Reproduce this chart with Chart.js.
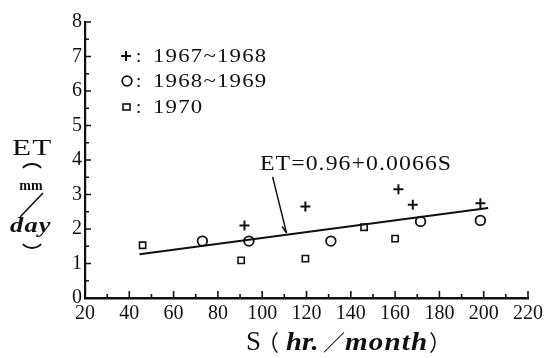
<!DOCTYPE html>
<html lang="en">
<head>
<meta charset="UTF-8">
<title>ET vs S</title>
<script src="https://cdn.jsdelivr.net/npm/chart.js@4.4.0/dist/chart.umd.min.js"></script>
<style>
  html, body { margin: 0; background: #fff; }
  #wrap { width: 548px; height: 358px; }
</style>
</head>
<body>
<div id="wrap"><canvas id="etChart" width="548" height="358"></canvas></div>
<script>
// S (hr./month) against ET (mm/day), three observation periods
const sPlus = [92, 119.5, 161.5, 168, 198.5];
const etPlus = [2.1, 2.65, 3.15, 2.7, 2.75];
const sCircle = [73, 94, 131, 171.5, 198.5];
const etCircle = [1.65, 1.65, 1.65, 2.22, 2.25];
const sSquare = [46, 90.5, 119.5, 146, 160];
const etSquare = [1.53, 1.09, 1.14, 2.05, 1.72];
// ends of the fitted line
const sFit = [44.6, 202];
const etFit = [1.27, 2.61];
const seriesNames = ["1967~1968", "1968~1969", "1970"];
const fitLabel = "ET=0.96+0.0066S";
const xTicks = [20, 40, 60, 80, 100, 120, 140, 160, 180, 200, 220];
const yTicks = [0, 1, 2, 3, 4, 5, 6, 7, 8];

const INK = "#111";
const SERIF = "'Liberation Serif', 'Times New Roman', serif";
const CJK = "'Noto Sans CJK JP', 'Noto Sans CJK SC', sans-serif";

const toPoints = (xs, ys) => xs.map((x, i) => ({ x: x, y: ys[i] }));

// text with optional letter spacing and horizontal stretch
function text(ctx, str, x, y, font, spacing, stretch) {
  ctx.save();
  ctx.font = font;
  ctx.letterSpacing = (spacing || 0) + "px";
  ctx.translate(x, y);
  ctx.scale(stretch || 1, 1);
  ctx.fillText(str, 0, 0);
  ctx.restore();
}

// flat bracket arc above (up=true) or below a block of text
function bracket(ctx, cx, cy, up) {
  const r = 13;
  ctx.beginPath();
  if (up) {
    ctx.arc(cx, cy + r, r, Math.PI * 1.25, Math.PI * 1.75);
  } else {
    ctx.arc(cx, cy - r, r, Math.PI * 0.25, Math.PI * 0.75);
  }
  ctx.stroke();
}

// inward ticks, legend, fit label and the axis titles
const decor = {
  id: "decor",
  afterDraw(chart) {
    const ctx = chart.ctx;
    const xs = chart.scales.x, ys = chart.scales.y;
    const ax = xs.getPixelForValue(20), ay = ys.getPixelForValue(0);
    ctx.save();
    ctx.strokeStyle = INK;
    ctx.fillStyle = INK;
    ctx.lineCap = "butt";

    // y ticks every 0.5, x ticks every 10
    ctx.lineWidth = 1.6;
    ctx.beginPath();
    for (let v = 0; v <= 8; v += 0.5) {
      const py = ys.getPixelForValue(v);
      const len = v % 1 === 0 ? 6 : 4;
      ctx.moveTo(ax - 1, py);
      ctx.lineTo(ax + len, py);
    }
    for (let v = 30; v <= 220; v += 10) {
      const px = xs.getPixelForValue(v);
      const len = v % 20 === 0 ? 7 : 4;
      ctx.moveTo(px, ay + 1);
      ctx.lineTo(px, ay - len);
    }
    ctx.stroke();

    // legend
    const lx = 126;
    const rows = [56, 81, 107];
    ctx.lineWidth = 2;
    ctx.beginPath();
    ctx.moveTo(lx - 5, rows[0]); ctx.lineTo(lx + 5, rows[0]);
    ctx.moveTo(lx, rows[0] - 5); ctx.lineTo(lx, rows[0] + 5);
    ctx.stroke();
    ctx.lineWidth = 1.8;
    ctx.beginPath();
    ctx.arc(lx + 1, rows[1], 4.8, 0, Math.PI * 2);
    ctx.stroke();
    ctx.lineWidth = 1.6;
    ctx.strokeRect(lx - 3, rows[2] - 3, 7, 6);
    ctx.textAlign = "left";
    ctx.textBaseline = "alphabetic";
    seriesNames.forEach((name, i) => {
      text(ctx, ":", 136, rows[i] + 6, "19px " + SERIF, 0, 1);
      text(ctx, name, 153, rows[i] + 6, "19px " + SERIF, 1, 1.2);
    });

    // fit equation with leader
    const ex = xs.getPixelForValue(99), ey = ys.getPixelForValue(3.95);
    text(ctx, fitLabel, ex, ey + 8, "22px " + SERIF, 1, 1.08);
    const p0 = { x: xs.getPixelForValue(104.7), y: ys.getPixelForValue(3.51) };
    const p1 = { x: xs.getPixelForValue(111), y: ys.getPixelForValue(1.88) };
    ctx.lineWidth = 1.5;
    ctx.beginPath();
    ctx.moveTo(p0.x, p0.y);
    ctx.lineTo(p1.x, p1.y);
    const ang = Math.atan2(p0.y - p1.y, p0.x - p1.x);
    ctx.moveTo(p1.x + 8 * Math.cos(ang - 0.35), p1.y + 8 * Math.sin(ang - 0.35));
    ctx.lineTo(p1.x, p1.y);
    ctx.stroke();

    // y title: ET over mm/day in brackets
    text(ctx, "ET", 12, 155, "24px " + SERIF, 1, 1.3);
    ctx.lineWidth = 1.8;
    bracket(ctx, 32, 164, true);
    bracket(ctx, 32, 248, false);
    ctx.textAlign = "center";
    ctx.textBaseline = "middle";
    text(ctx, "mm", 31, 186, "bold 14px " + SERIF, 0, 1);
    ctx.textAlign = "left";
    ctx.textBaseline = "alphabetic";
    text(ctx, "day", 10, 232, "bold italic 22px " + SERIF, 1, 1.2);
    ctx.lineWidth = 1.6;
    ctx.beginPath();
    ctx.moveTo(43, 193);
    ctx.lineTo(20, 217);
    ctx.stroke();

    // x title
    text(ctx, "S", 246, 350, "27px " + SERIF, 0, 1);
    text(ctx, "（", 257, 350, "22px " + CJK, 0, 1);
    text(ctx, "hr.", 286, 350, "bold italic 26px " + SERIF, 0, 1.1);
    text(ctx, "／", 323, 350, "22px " + CJK, 0, 1);
    text(ctx, "month", 345, 350, "bold italic 26px " + SERIF, 1, 1.12);
    text(ctx, "）", 429, 350, "22px " + CJK, 0, 1);
    ctx.restore();
  }
};

new Chart(document.getElementById("etChart"), {
  type: "scatter",
  data: {
    datasets: [
      {
        label: seriesNames[0],
        data: toPoints(sPlus, etPlus),
        pointStyle: "cross",
        pointRadius: 5,
        borderWidth: 2,
        borderColor: INK,
        backgroundColor: INK
      },
      {
        label: seriesNames[1],
        data: toPoints(sCircle, etCircle),
        pointStyle: "circle",
        pointRadius: 4.8,
        borderWidth: 1.8,
        borderColor: INK,
        backgroundColor: "rgba(0,0,0,0)"
      },
      {
        label: seriesNames[2],
        data: toPoints(sSquare, etSquare),
        pointStyle: "rect",
        pointRadius: 4.4,
        borderWidth: 1.6,
        borderColor: INK,
        backgroundColor: "rgba(0,0,0,0)"
      },
      {
        type: "line",
        label: fitLabel,
        data: toPoints(sFit, etFit),
        borderColor: INK,
        borderWidth: 2,
        pointRadius: 0,
        fill: false
      }
    ]
  },
  options: {
    responsive: false,
    animation: false,
    layout: { padding: { top: 22, right: 20, left: 0, bottom: 0 } },
    plugins: {
      legend: { display: false },
      tooltip: { enabled: false }
    },
    scales: {
      x: {
        type: "linear",
        min: 20,
        max: 220,
        afterBuildTicks: (s) => { s.ticks = xTicks.map((v) => ({ value: v })); },
        afterFit: (s) => { s.height = 60; },
        grid: { display: false, drawTicks: false },
        border: { display: true, width: 2.5, color: INK },
        ticks: {
          color: INK,
          padding: 4,
          maxRotation: 0,
          autoSkip: false,
          font: { family: SERIF, size: 20 }
        }
      },
      y: {
        type: "linear",
        min: 0,
        max: 8,
        afterBuildTicks: (s) => { s.ticks = yTicks.map((v) => ({ value: v })); },
        afterFit: (s) => { s.width = 85; },
        grid: { display: false, drawTicks: false },
        border: { display: true, width: 2.2, color: INK },
        ticks: {
          color: INK,
          padding: 3,
          font: { family: SERIF, size: 20 }
        }
      }
    }
  },
  plugins: [decor]
});
</script>
</body>
</html>
